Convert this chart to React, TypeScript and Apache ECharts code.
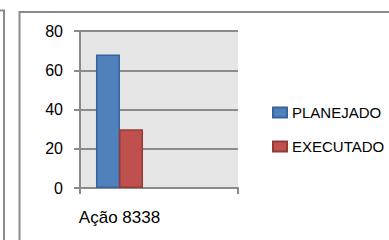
import React, { useEffect, useRef } from "react";
import * as echarts from "echarts";

const categories = ["Ação 8338", ""];
const seriesNames = ["PLANEJADO", "EXECUTADO"];
const planejado = [68, null];
const executado = [30, null];
const yTicks = [0, 20, 40, 60, 80];

export default function App() {
  const ref = useRef<HTMLDivElement>(null);
  useEffect(() => {
    if (!ref.current) return;
    const chart = echarts.init(ref.current, null, { renderer: "svg" });
    const font = "'Liberation Sans', Arial, sans-serif";
    chart.setOption({
      animation: false,
      backgroundColor: "#ffffff",
      textStyle: { fontFamily: font },
      graphic: [
        {
          type: "polyline",
          shape: { points: [[0, 10.5], [4, 10.5], [4, 240]] },
          style: { stroke: "#8a8a8a", lineWidth: 2, fill: "none" },
          z: 10,
        },
        {
          type: "polyline",
          shape: { points: [[19.5, 240], [19.5, 12], [389, 12]] },
          style: { stroke: "#8a8a8a", lineWidth: 2, fill: "none" },
          z: 10,
        },
      ],
      grid: {
        left: 80,
        right: 151,
        top: 31,
        bottom: 52,
        show: true,
        backgroundColor: "#e6e6e6",
        borderWidth: 0,
      },
      legend: {
        orient: "vertical",
        left: 267,
        top: 100,
        itemWidth: 14,
        itemHeight: 10,
        itemGap: 19,
        icon: "rect",
        textStyle: { fontSize: 15, color: "#000", fontFamily: font },
        data: seriesNames,
      },
      xAxis: {
        type: "category",
        data: categories,
        axisLine: { lineStyle: { color: "#8a8a8a", width: 2 } },
        axisTick: { show: true, length: 6, lineStyle: { color: "#8a8a8a", width: 2 } },
        axisLabel: { fontSize: 17, color: "#000", margin: 21, fontFamily: font },
      },
      yAxis: {
        type: "value",
        min: 0,
        max: 80,
        interval: 20,
        axisLine: { show: true, lineStyle: { color: "#8a8a8a", width: 2 } },
        axisTick: { show: true, length: 6, lineStyle: { color: "#8a8a8a", width: 2 } },
        axisLabel: {
          fontSize: 16,
          color: "#000",
          margin: 17,
          fontFamily: font,
          formatter: (v: number) => (yTicks.includes(v) ? String(v) : ""),
        },
        splitLine: { show: true, lineStyle: { color: "#8a8a8a", width: 2 } },
      },
      series: [
        {
          name: seriesNames[0],
          type: "bar",
          data: planejado,
          barWidth: 24,
          barGap: "-4%",
          itemStyle: { color: "#4f81bd", borderColor: "#3a6499", borderWidth: 1.5 },
        },
        {
          name: seriesNames[1],
          type: "bar",
          data: executado,
          barWidth: 24,
          itemStyle: { color: "#c0504d", borderColor: "#923b39", borderWidth: 1.5 },
        },
      ],
    });
    return () => chart.dispose();
  }, []);
  return (
    <div
      ref={ref}
      style={{ position: "fixed", left: 0, top: 0, width: 389, height: 240 }}
    />
  );
}
